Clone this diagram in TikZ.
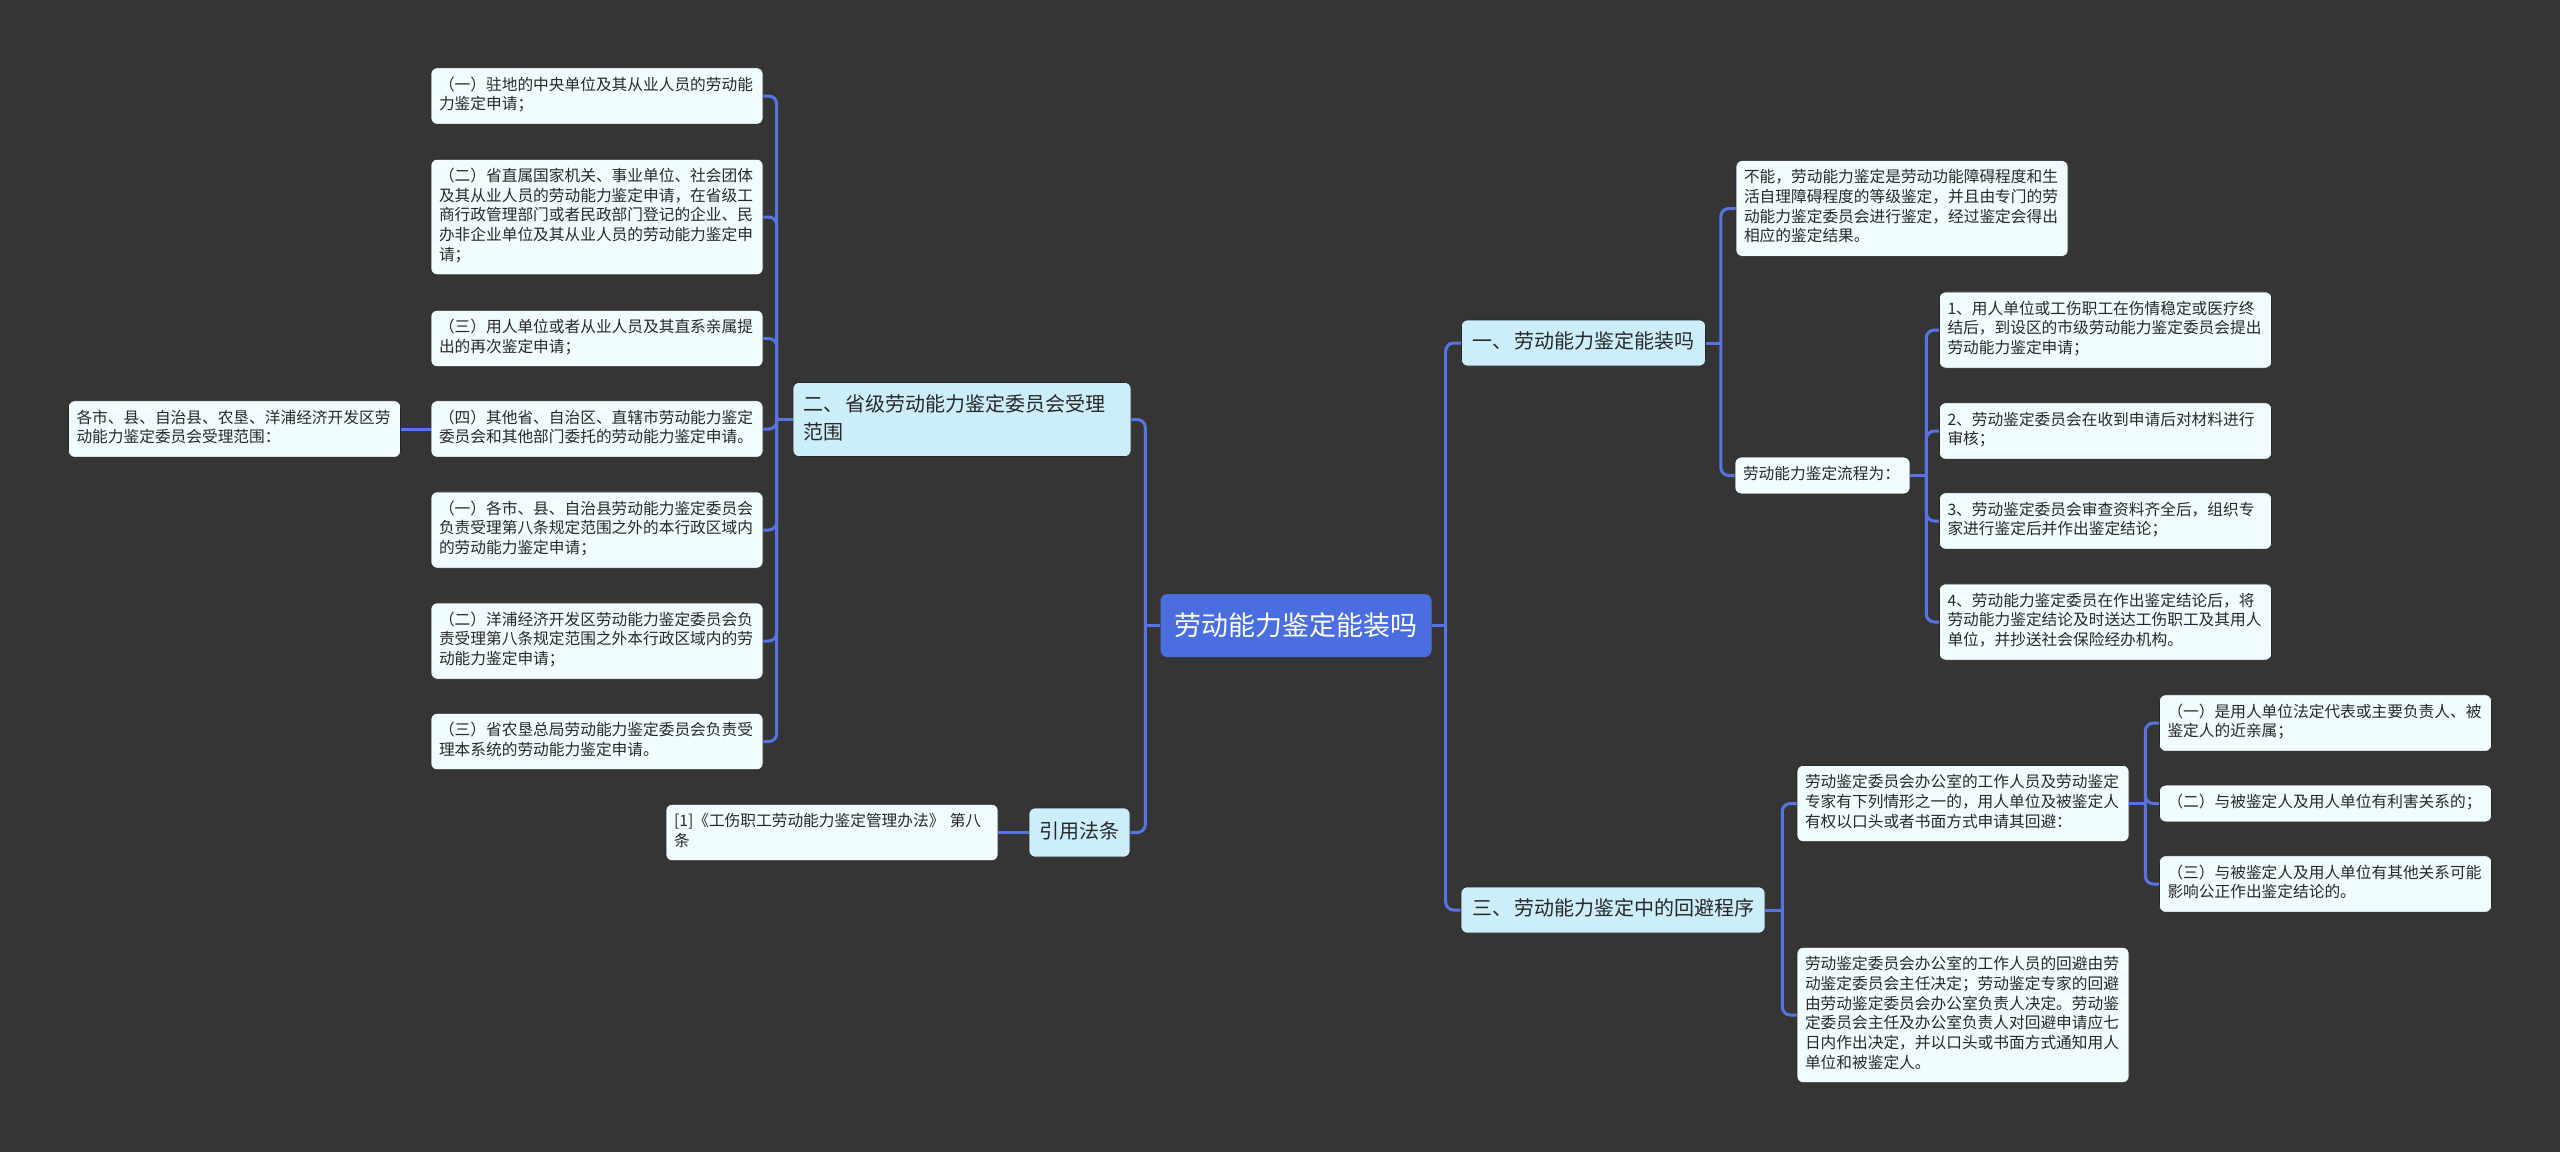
\documentclass[tikz,border=0pt]{standalone}
\usepackage{fontspec}
\setmainfont{Noto Sans CJK SC}
\usetikzlibrary{positioning}

\definecolor{sfondo}{RGB}{54,53,54}
\definecolor{radice}{RGB}{74,110,224}
\definecolor{ramo}{RGB}{204,238,251}
\definecolor{foglia}{RGB}{240,252,255}
\definecolor{bordo}{RGB}{38,38,38}
\definecolor{linea}{RGB}{86,116,226}
\definecolor{testo}{RGB}{40,40,40}

\tikzset{
  leaf/.style={draw=bordo, line width=0.6pt, fill=foglia, rounded corners=6pt,
    text=testo, text width=316pt, align=left, inner xsep=8pt, inner ysep=8.5pt,
    font={\fontsize{15.7}{19.7}\selectfont},
    execute at begin node=\strut, execute at end node=\strut},
  topic/.style={draw=bordo, line width=0.6pt, fill=ramo, rounded corners=6pt,
    text=testo, align=left, inner xsep=11pt, inner ysep=9pt,
    font={\fontsize{20}{28}\selectfont},
    execute at begin node=\strut, execute at end node=\strut},
  rootbox/.style={fill=radice, rounded corners=7pt, text=white,
    minimum height=63pt, inner xsep=14pt,
    font={\fontsize{27}{32}\selectfont}},
  link/.style={draw=linea, line width=3pt},
}

\begin{document}
\begin{tikzpicture}[x=1pt,y=-1pt]

% =====================
% Colonne orizzontali
% =====================
\def\LeftX{597}
\def\StepX{2105.5}
\def\AvoidX{1963}
\def\CaseX{2325.5}

\useasboundingbox (0,0) rectangle (2560,1152);
\fill[sfondo] (0,0) rectangle (2560,1152);

% =====================
% Nodo centrale
% =====================
\node[rootbox] (root) at (1296,625.5) {劳动能力鉴定能装吗};

% =====================
% Ramo sinistro
% =====================
\node[topic, text width=318pt, inner xsep=10pt] (two) at (962,419.5)
  {二、\hspace{2pt}省级劳动能力鉴定委员会受理\\范围};
\node[topic, inner xsep=10.5pt, inner ysep=10.5pt] (cite) at (1079.5,832.5) {引用法条};
\node[leaf] (ref) at (832,832.5) {[1]《工伤职工劳动能力鉴定管理办法》 第八\\条};

\node[leaf] (l1) at (\LeftX,96) {（一）驻地的中央单位及其从业人员的劳动能\\力鉴定申请；};
\node[leaf] (l2) at (\LeftX,217) {（二）省直属国家机关、事业单位、社会团体\\及其从业人员的劳动能力鉴定申请，在省级工\\商行政管理部门或者民政部门登记的企业、民\\办非企业单位及其从业人员的劳动能力鉴定申\\请；};
\node[leaf] (l3) at (\LeftX,338.5) {（三）用人单位或者从业人员及其直系亲属提\\出的再次鉴定申请；};
\node[leaf] (l4) at (\LeftX,429) {（四）其他省、自治区、直辖市劳动能力鉴定\\委员会和其他部门委托的劳动能力鉴定申请。};
\node[leaf] (l5) at (\LeftX,530) {（一）各市、县、自治县劳动能力鉴定委员会\\负责受理第八条规定范围之外的本行政区域内\\的劳动能力鉴定申请；};
\node[leaf] (l6) at (\LeftX,641) {（二）洋浦经济开发区劳动能力鉴定委员会负\\责受理第八条规定范围之外本行政区域内的劳\\动能力鉴定申请；};
\node[leaf] (l7) at (\LeftX,741.5) {（三）省农垦总局劳动能力鉴定委员会负责受\\理本系统的劳动能力鉴定申请。};
\node[leaf] (far) at (234.5,429) {各市、县、自治县、农垦、洋浦经济开发区劳\\动能力鉴定委员会受理范围：};

% =====================
% Ramo destro
% =====================
\node[topic] (one) at (1583.5,343) {一、\hspace{2pt}劳动能力鉴定能装吗};
\node[topic] (three) at (1613,910) {三、\hspace{2pt}劳动能力鉴定中的回避程序};

\node[leaf] (cannot) at (1902,208.5) {不能，劳动能力鉴定是劳动功能障碍程度和生\\活自理障碍程度的等级鉴定，并且由专门的劳\\动能力鉴定委员会进行鉴定，经过鉴定会得出\\相应的鉴定结果。};
\node[leaf, text width=159pt] (flow) at (1822.5,475.5) {劳动能力鉴定流程为：};

\node[leaf] (s1) at (\StepX,330) {1、用人单位或工伤职工在伤情稳定或医疗终\\结后，到设区的市级劳动能力鉴定委员会提出\\劳动能力鉴定申请；};
\node[leaf] (s2) at (\StepX,431) {2、劳动鉴定委员会在收到申请后对材料进行\\审核；};
\node[leaf] (s3) at (\StepX,521) {3、劳动鉴定委员会审查资料齐全后，组织专\\家进行鉴定后并作出鉴定结论；};
\node[leaf] (s4) at (\StepX,622) {4、劳动能力鉴定委员在作出鉴定结论后，将\\劳动能力鉴定结论及时送达工伤职工及其用人\\单位，并抄送社会保险经办机构。};

\node[leaf] (avoidA) at (\AvoidX,803.5) {劳动鉴定委员会办公室的工作人员及劳动鉴定\\专家有下列情形之一的，用人单位及被鉴定人\\有权以口头或者书面方式申请其回避：};
\node[leaf] (avoidB) at (\AvoidX,1015) {劳动鉴定委员会办公室的工作人员的回避由劳\\动鉴定委员会主任决定；劳动鉴定专家的回避\\由劳动鉴定委员会办公室负责人决定。劳动鉴\\定委员会主任及办公室负责人对回避申请应七\\日内作出决定，并以口头或书面方式通知用人\\单位和被鉴定人。};

\node[leaf] (c1) at (\CaseX,723) {（一）是用人单位法定代表或主要负责人、被\\鉴定人的近亲属；};
\node[leaf] (c2) at (\CaseX,803.5) {（二）与被鉴定人及用人单位有利害关系的；};
\node[leaf] (c3) at (\CaseX,884) {（三）与被鉴定人及用人单位有其他关系可能\\影响公正作出鉴定结论的。};

% =====================
% Collegamenti
% =====================
\draw[link] (root.east) -- ++(14,0) coordinate (jRootR);
\foreach \n in {one,three}
  \draw[link, rounded corners=8pt] (jRootR) |- (\n.west);

\draw[link] (root.west) -- ++(-15,0) coordinate (jRootL);
\foreach \n in {two,cite}
  \draw[link, rounded corners=8pt] (jRootL) |- (\n.east);

\draw[link] (two.west) -- ++(-16,0) coordinate (jTwo);
\foreach \n in {l1,l2,l3,l4,l5,l6,l7}
  \draw[link, rounded corners=8pt] (jTwo) |- (\n.east);
\draw[link] (l4.west) -- (far.east);
\draw[link] (cite.west) -- (ref.east);

\draw[link] (one.east) -- ++(15,0) coordinate (jOne);
\foreach \n in {cannot,flow}
  \draw[link, rounded corners=8pt] (jOne) |- (\n.west);

\draw[link] (flow.east) -- ++(16,0) coordinate (jFlow);
\foreach \n in {s1,s2,s3,s4}
  \draw[link, rounded corners=8pt] (jFlow) |- (\n.west);

\draw[link] (three.east) -- ++(17,0) coordinate (jThree);
\foreach \n in {avoidA,avoidB}
  \draw[link, rounded corners=8pt] (jThree) |- (\n.west);

\draw[link] (avoidA.east) -- ++(16,0) coordinate (jAvoid);
\foreach \n in {c1,c2,c3}
  \draw[link, rounded corners=8pt] (jAvoid) |- (\n.west);

\end{tikzpicture}
\end{document}
